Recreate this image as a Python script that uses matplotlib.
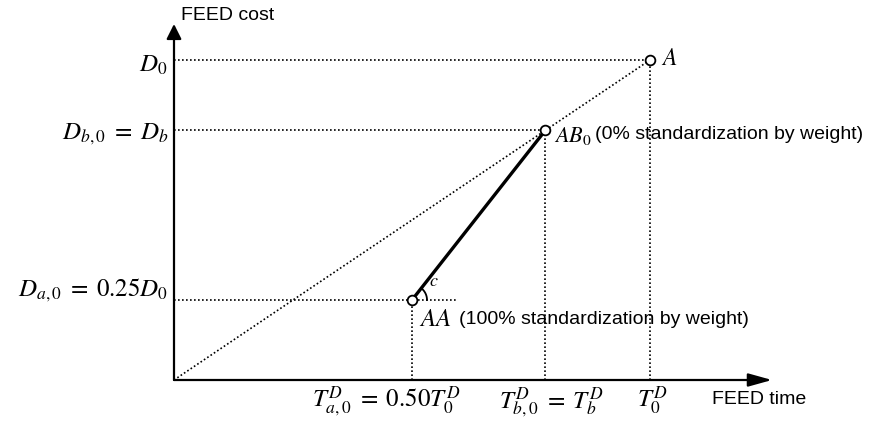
import numpy as np
import matplotlib
matplotlib.use("Agg")
import matplotlib.pyplot as plt

plt.rcParams['font.family'] = ['Liberation Sans', 'DejaVu Sans']
plt.rcParams['mathtext.fontset'] = 'stix'

# Data (normalized: T0 = 1, D0 = 1)
point_names = ["AA", "AB0", "A"]
time_vals = [0.50, 0.78, 1.00]
cost_vals = [0.25, 0.78, 1.00]
x_tick_labels = [r"$T^{D}_{a,0}\;=\;0.50T^{D}_{0}$", r"$T^{D}_{b,0}\;=\;T^{D}_{b}$", r"$T^{D}_{0}$"]
y_tick_labels = [r"$D_{a,0}\;=\;0.25D_{0}$", r"$D_{b,0}\;=\;D_{b}$", r"$D_{0}$"]
point_labels = [r"$AA$", r"$AB_{0}$", r"$A$"]
point_notes = ["(100% standardization by weight)", "(0% standardization by weight)", ""]

W, H = 879, 421
fig = plt.figure(figsize=(W / 100, H / 100), dpi=100)
ax = fig.add_axes([0, 0, 1, 1])
OX, OY, SX, SY = 174, 380, 476, 320
ax.set_xlim(-OX / SX, (W - OX) / SX)
ax.set_ylim((OY - H) / SY, OY / SY)
ax.axis('off')

def dx(px):
    return px / SX

def dy(px):
    return px / SY

dot = (0, (1.0, 1.4))
k = 'black'

# axes with arrows
ax.annotate('', xy=(dx(772 - OX), 0), xytext=(0, 0),
            arrowprops=dict(arrowstyle='-|>,head_length=0.72,head_width=0.2',
                            mutation_scale=20, lw=1.6, color=k, shrinkA=0, shrinkB=0))
ax.annotate('', xy=(0, dy(OY - 24)), xytext=(0, 0),
            arrowprops=dict(arrowstyle='-|>,head_length=0.5,head_width=0.25',
                            mutation_scale=18, lw=1.6, color=k, shrinkA=0, shrinkB=0))

# diagonal dotted from origin to A
ax.plot([0, time_vals[2]], [0, cost_vals[2]], color=k, lw=1.2, ls=dot)

# guide lines
extra = [dx(45), 0, 0]
for i in range(3):
    ax.plot([0, time_vals[i] + extra[i]], [cost_vals[i], cost_vals[i]], color=k, lw=1.2, ls=dot)
    ax.plot([time_vals[i], time_vals[i]], [0, cost_vals[i]], color=k, lw=1.2, ls=dot)

# solid segment AA -> AB0
ax.plot(time_vals[:2], cost_vals[:2], color=k, lw=2.4, solid_capstyle='butt', zorder=3)

# angle arc at AA
ang = np.arctan2((cost_vals[1] - cost_vals[0]) * SY, (time_vals[1] - time_vals[0]) * SX)
t = np.linspace(0, ang, 40)
r = 15
ax.plot(time_vals[0] + dx(r) * np.cos(t), cost_vals[0] + dy(r) * np.sin(t), color=k, lw=1.3)
ax.text(time_vals[0] + dx(22), cost_vals[0] + dy(18), r"$c$", fontsize=13, ha='center', va='center')

# markers
ax.plot(time_vals, cost_vals, 'o', ms=7, mfc='white', mec=k, mew=1.3, zorder=5)

# y labels
y_off = [10, -4, -5]
for i in range(3):
    ax.text(dx(-6), cost_vals[i] + dy(y_off[i]), y_tick_labels[i], fontsize=18,
            ha='right', va='center')

# x labels
x_shift = [-26, 6, 2]
for i in range(3):
    ax.text(time_vals[i] + dx(x_shift[i]), dy(-5), x_tick_labels[i], fontsize=18,
            ha='center', va='top')

# point labels
ax.text(time_vals[2] + dx(11), cost_vals[2] + dy(1), point_labels[2], fontsize=17,
        ha='left', va='center')
ax.text(time_vals[1] + dx(9), cost_vals[1] + dy(-6), point_labels[1], fontsize=16,
        ha='left', va='center')
ax.text(dx(595 - OX), cost_vals[1] + dy(-4), point_notes[1], fontsize=14,
        ha='left', va='center')
ax.text(time_vals[0] + dx(7), cost_vals[0] + dy(-19), point_labels[0], fontsize=18,
        ha='left', va='center')
ax.text(dx(459 - OX), cost_vals[0] + dy(-19), point_notes[0], fontsize=14,
        ha='left', va='center')

# axis titles
ax.text(dx(181 - OX), dy(OY - 15), "FEED cost", fontsize=14, ha='left', va='center')
ax.text(dx(712 - OX), dy(OY - 400), "FEED time", fontsize=14, ha='left', va='center')

fig.savefig("out.png", dpi=100)
